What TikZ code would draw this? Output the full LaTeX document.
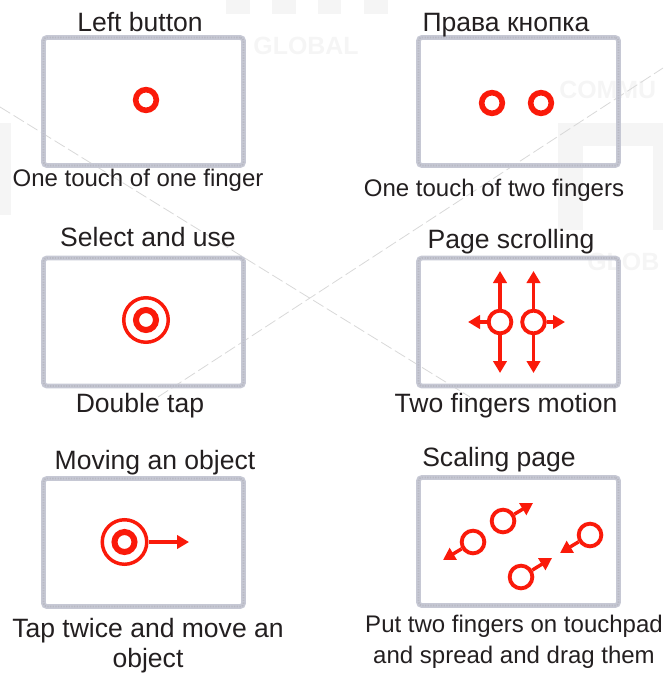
\documentclass[tikz,border=0pt]{standalone}
\usepackage{fontspec}
\setmainfont{Liberation Sans}
\usetikzlibrary{arrows.meta}
\definecolor{rouge}{RGB}{250,26,10}
\definecolor{bord}{RGB}{198,200,212}
\definecolor{encre}{RGB}{35,31,32}
\definecolor{tiret}{RGB}{216,216,216}
\definecolor{filigrane}{RGB}{245,245,245}
\begin{document}
\begin{tikzpicture}[x=0.75pt, y=-0.75pt]
\tikzstyle{pad} = [draw=bord, line width=3.6pt, rounded corners=2.5pt, minimum width=150pt, minimum height=96pt, inner sep=0pt, postaction={draw=bord!80!gray, line width=1.4pt, dash pattern=on 1pt off 1pt}];
\tikzstyle{tap} = [circle, draw=rouge, line width=4.2pt, minimum size=15.5pt, inner sep=0pt];
\tikzstyle{doigt} = [circle, draw=rouge, line width=2.9pt, minimum size=17pt, inner sep=0pt];
\tikzstyle{anneau} = [circle, draw=rouge, line width=2.6pt, minimum size=33.4pt, inner sep=0pt];
\tikzstyle{noyau} = [circle, draw=rouge, line width=4.5pt, minimum size=15pt, inner sep=0pt];
\tikzstyle{fl} = [draw=rouge, line width=2.6pt, -{Triangle[length=9pt, width=10pt]}];
\tikzstyle{titre} = [text=encre, font=\fontsize{19.9}{22.5}\selectfont, align=center, inner sep=0pt];
\tikzstyle{petit} = [text=encre, font=\fontsize{18}{22.5}\selectfont, align=center, inner sep=0pt];
\tikzstyle{marque} = [text=filigrane, font=\fontsize{18.7}{21}\bfseries\selectfont, inner sep=0pt];
\useasboundingbox (0, 0) rectangle (663, 673);

% filigrane
\fill[filigrane] (226, 0) rectangle (250, 14);
\fill[filigrane] (272, 0) rectangle (296, 14);
\fill[filigrane] (318, 0) rectangle (341, 14);
\fill[filigrane] (364, 0) rectangle (388, 14);
\fill[filigrane] (0, 123) rectangle (11, 215);
\fill[filigrane] (558, 123) rectangle (663, 146);
\fill[filigrane] (558, 146) rectangle (583, 230);
\fill[filigrane] (653, 146) rectangle (663, 230);
\node[marque] (g1) at (306, 46) {GLOBAL};
\node[marque, anchor=west] (g2) at (559, 90) {COMMU};
\node[marque, anchor=west] (g3) at (587, 262) {GLOB};
\draw[tiret, dash pattern=on 9pt off 3pt, line width=0.6pt] (0, 107) -- (470, 397);
\draw[tiret, dash pattern=on 9pt off 3pt, line width=0.6pt] (158, 397) -- (663, 68);

\node[pad] (p1) at (143.5, 101.5) { };
\node[pad] (p2) at (518.5, 101.5) { };
\node[pad] (p3) at (143.5, 322) { };
\node[pad] (p4) at (518.5, 322) { };
\node[pad] (p5) at (143.5, 542.5) { };
\node[pad] (p6) at (518.5, 541.5) { };

\node[titre] (t1) at (140, 22) {Left button};
\node[titre] (t2) at (506, 25) {Права кнопка};
\node[titre] (t3) at (148, 237) {Select and use};
\node[titre] (t4) at (511, 242) {Page scrolling};
\node[titre] (t5) at (155, 463) {Moving an object};
\node[titre] (t6) at (499, 460) {Scaling page};

\node[petit] (l1) at (138, 180) {One touch of one finger};
\node[petit] (l2) at (494, 190) {One touch of two fingers};
\node[titre] (l3) at (140, 406) {Double tap};
\node[titre] (l4) at (506, 406) {Two fingers motion};
\node[titre] (l5) at (148, 646) {Tap twice and move an\\object};
\node[petit] (l6) at (514, 642) {Put two fingers on touchpad\\[1pt]and spread and drag them};

\node[tap] (a) at (146, 100) { };
\node[tap] (b1) at (492, 103) { };
\node[tap] (b2) at (541, 103) { };

\node[anneau] (c) at (146, 320) { };
\node[noyau] (c0) at (146, 320) { };

\node[anneau] (d) at (124.5, 542) { };
\node[noyau] (d0) at (124.5, 542) { };
\coordinate (d1) at (189, 542);
\draw[fl] (d) -- (d1);

\node[doigt] (e1) at (500, 322) { };
\node[doigt] (e2) at (533.5, 322) { };
\coordinate (e1h) at (500, 271);
\coordinate (e1b) at (500, 373);
\coordinate (e1g) at (468, 322);
\coordinate (e2h) at (533.5, 271);
\coordinate (e2b) at (533.5, 373);
\coordinate (e2d) at (565, 322);
\draw[fl] (e1) -- (e1h);
\draw[fl] (e1) -- (e1b);
\draw[fl] (e1) -- (e1g);
\draw[fl] (e2) -- (e2h);
\draw[fl] (e2) -- (e2b);
\draw[fl] (e2) -- (e2d);

\node[doigt] (f1) at (473, 542) { };
\node[doigt] (f2) at (503, 521) { };
\node[doigt] (f3) at (590, 535) { };
\node[doigt] (f4) at (521, 577) { };
\coordinate (f1x) at (443, 560);
\coordinate (f2x) at (533, 503);
\coordinate (f3x) at (560, 553);
\coordinate (f4x) at (552, 558);
\draw[fl] (f1) -- (f1x);
\draw[fl] (f2) -- (f2x);
\draw[fl] (f3) -- (f3x);
\draw[fl] (f4) -- (f4x);
\end{tikzpicture}
\end{document}
